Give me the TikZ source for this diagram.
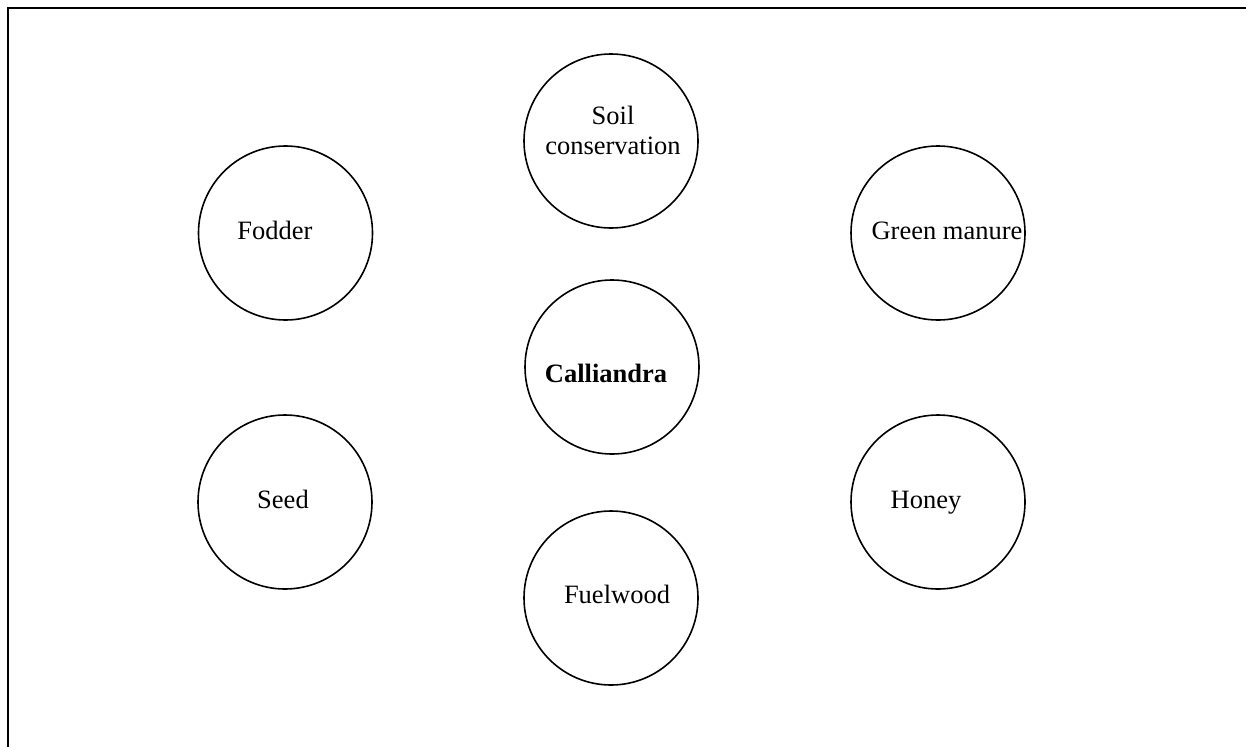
\documentclass[tikz,border=0pt]{standalone}
\usepackage{fontspec}
\setmainfont{Liberation Serif}
\begin{document}
\begin{tikzpicture}[x=1pt,y=-1pt,
  bubble/.style={circle,draw,line width=1.6pt,minimum size=174pt,inner sep=0pt},
  lbl/.style={anchor=base,inner sep=0pt,font=\fontsize{26.5}{30}\selectfont},
  frame/.style={line width=2pt}]
\useasboundingbox (0,0) rectangle (1246,747);
\coordinate (fb) at (8,747);
\coordinate (fc) at (8,8);
\coordinate (fr) at (1246,8);
\draw[frame] (fb) -- (fc) -- (fr);
% circles
\node[bubble] (soil) at (611,141) {};
\node[bubble] (fodder) at (285.5,233) {};
\node[bubble] (green) at (938,233) {};
\node[bubble] (call) at (612,367) {};
\node[bubble] (seed) at (285,502) {};
\node[bubble] (honey) at (938,502) {};
\node[bubble] (fuel) at (611,598) {};
% labels
\node[lbl,align=center] (soilt) at (613,154) {Soil\\conservation};
\node[lbl] (foddert) at (275,239) {Fodder};
\node[lbl] (greent) at (947,239) {Green manure};
\node[lbl] (callt) at (606,382) {\bfseries Calliandra};
\node[lbl] (seedt) at (283,508) {Seed};
\node[lbl] (honeyt) at (926,508) {Honey};
\node[lbl] (fuelt) at (617,603) {Fuelwood};
\end{tikzpicture}
\end{document}
